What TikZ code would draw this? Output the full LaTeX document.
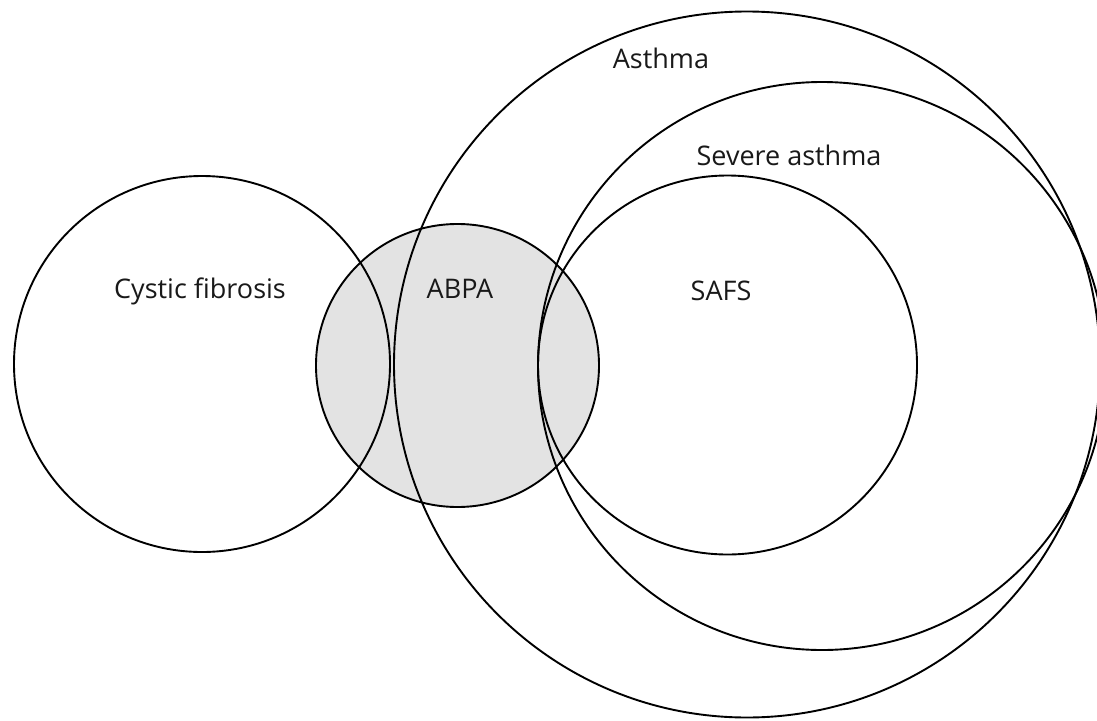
\documentclass[tikz,border=0pt]{standalone}
\usepackage{fontspec}
\setmainfont{Open Sans}
\begin{document}
\begin{tikzpicture}[x=1pt,y=-1pt,
  setcircle/.style={circle, draw=black, line width=1.9pt, inner sep=0pt, minimum size=#1},
  lbl/.style={font=\fontsize{27}{32}\selectfont, text=black!90, inner sep=0pt}]
\useasboundingbox (0,0) rectangle (1097,720);
\clip (0,0) rectangle (1097,720);
% ABPA filled
\node[setcircle=283pt, fill=black!11] (abpa) at (457.5,365.5) {};
\node[setcircle=376pt] (cf) at (202,364) {};
\node[setcircle=706pt] (asthma) at (747,364.5) {};
\node[setcircle=568pt] (severe) at (822,366) {};
\node[setcircle=379pt] (safs) at (727.5,365) {};
% labels
\node[lbl] (tcf) at (200,291) {Cystic fibrosis};
\node[lbl] (tabpa) at (460,289) {ABPA};
\node[lbl] (tsafs) at (721,291) {SAFS};
\node[lbl] (tasthma) at (661,58) {Asthma};
\node[lbl] (tsevere) at (789,155) {Severe asthma};
\end{tikzpicture}
\end{document}
